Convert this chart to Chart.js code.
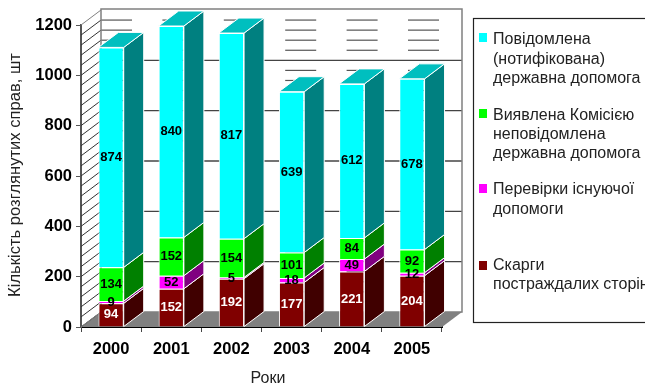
<!DOCTYPE html>
<html>
<head>
<meta charset="utf-8">
<style>
  html, body { margin: 0; padding: 0; background: #fff; overflow: hidden; }
  canvas { display: block; }
</style>
<script src="https://cdn.jsdelivr.net/npm/chart.js@4"></script>
</head>
<body>
<canvas id="casesChart" width="645" height="386"></canvas>
<script>
const years = ['2000', '2001', '2002', '2003', '2004', '2005'];
const complaints = [94, 152, 192, 177, 221, 204];
const reviews = [9, 52, 5, 18, 49, 12];
const detected = [134, 152, 154, 101, 84, 92];
const notified = [874, 840, 817, 639, 612, 678];

const legendNotified = ['Повідомлена', '(нотифікована)', 'державна допомога'];
const legendDetected = ['Виявлена Комісією', 'неповідомлена', 'державна допомога'];
const legendReviews = ['Перевірки існуючої', 'допомоги'];
const legendComplaints = ['Скарги', 'постраждалих сторін'];

const FONT = '"Liberation Sans", Arial, sans-serif';
const DEPTH_X = 20;
const DEPTH_Y = 15;

function poly(ctx, pts, fill, stroke, lw) {
    ctx.beginPath();
    pts.forEach((p, i) => i ? ctx.lineTo(p[0], p[1]) : ctx.moveTo(p[0], p[1]));
    ctx.closePath();
    if (fill) { ctx.fillStyle = fill; ctx.fill(); }
    if (stroke) { ctx.strokeStyle = stroke; ctx.lineWidth = lw || 1; ctx.stroke(); }
}

function line(ctx, x1, y1, x2, y2, color, lw) {
    ctx.beginPath();
    ctx.moveTo(x1, y1);
    ctx.lineTo(x2, y2);
    ctx.strokeStyle = color;
    ctx.lineWidth = lw;
    ctx.stroke();
}

// walls, floor and grid of the 3d box, behind the bars
const boxPlugin = {
    id: 'box3d',
    beforeDatasetsDraw(chart) {
        const ctx = chart.ctx;
        const { x, y } = chart.scales;
        const l = x.left, r = x.right;
        const y0 = y.getPixelForValue(0), yTop = y.getPixelForValue(1200);
        ctx.save();

        poly(ctx, [[l, y0], [r, y0], [r + DEPTH_X, y0 - DEPTH_Y], [l + DEPTH_X, y0 - DEPTH_Y]], '#808080');

        // hatching on the left wall
        for (let v = 0; v <= 1200; v += 40) {
            const py = y.getPixelForValue(v);
            line(ctx, l, py, l + DEPTH_X, py - DEPTH_Y, v === 1200 ? '#808080' : '#333', 1);
        }

        // short minor dashes on the back wall
        for (let i = 0; i < years.length; i++) {
            const sx = l + DEPTH_X + i * 61.4;
            for (let v = 40; v < 1200; v += 40) {
                if (v % 200 === 0) continue;
                const py = y.getPixelForValue(v) - DEPTH_Y;
                line(ctx, sx, py, sx + 31, py, '#555', 1.2);
            }
        }

        for (let v = 200; v < 1200; v += 200) {
            const py = y.getPixelForValue(v) - DEPTH_Y;
            line(ctx, l + DEPTH_X, py, r + DEPTH_X, py, '#444', 1.3);
        }

        poly(ctx, [[l + DEPTH_X, yTop - DEPTH_Y - 1], [r + DEPTH_X, yTop - DEPTH_Y - 1], [r + DEPTH_X, y0 - DEPTH_Y], [l + DEPTH_X, y0 - DEPTH_Y]], null, '#808080', 1.5);
        line(ctx, l, y0, l + DEPTH_X, y0 - DEPTH_Y, '#808080', 1);

        // side and top faces of every bar segment
        chart.data.datasets.forEach((ds, di) => {
            chart.getDatasetMeta(di).data.forEach(bar => {
                const right = bar.x + bar.width / 2;
                poly(ctx, [[right, bar.y], [right + DEPTH_X, bar.y - DEPTH_Y], [right + DEPTH_X, bar.base - DEPTH_Y], [right, bar.base]], ds.sideColor, '#fff', 1);
                if (di === chart.data.datasets.length - 1) {
                    const left = bar.x - bar.width / 2;
                    poly(ctx, [[left, bar.y], [left + DEPTH_X, bar.y - DEPTH_Y], [right + DEPTH_X, bar.y - DEPTH_Y], [right, bar.y]], ds.topColor, '#fff', 1);
                }
            });
        });
        ctx.restore();
    },
    afterDatasetsDraw(chart) {
        const ctx = chart.ctx;
        ctx.save();
        ctx.textAlign = 'center';
        ctx.textBaseline = 'middle';
        ctx.font = 'bold 13px ' + FONT;
        chart.data.datasets.forEach((ds, di) => {
            chart.getDatasetMeta(di).data.forEach((bar, i) => {
                ctx.fillStyle = ds.labelColor;
                ctx.fillText(ds.data[i], bar.x, (bar.y + bar.base) / 2);
            });
        });
        ctx.restore();
    }
};

// axis titles and the boxed legend
const sidePlugin = {
    id: 'sideText',
    afterDraw(chart) {
        const ctx = chart.ctx;
        ctx.save();
        ctx.fillStyle = '#222';
        ctx.textBaseline = 'alphabetic';

        ctx.textAlign = 'center';
        ctx.font = '16px ' + FONT;
        ctx.fillText('Роки', 268, 383);
        ctx.save();
        ctx.translate(20, 175);
        ctx.rotate(-Math.PI / 2);
        ctx.font = '16.6px ' + FONT;
        ctx.fillText('Кількість розглянутих справ, шт', 0, 0);
        ctx.restore();

        ctx.strokeStyle = '#222';
        ctx.lineWidth = 1.2;
        ctx.strokeRect(473.5, 18.5, 200, 304);

        const entries = [
            { color: '#00ffff', square: 33, lines: legendNotified, base: [44, 64, 83] },
            { color: '#00ff00', square: 109, lines: legendDetected, base: [120, 139, 158] },
            { color: '#ff00ff', square: 184, lines: legendReviews, base: [194, 214] },
            { color: '#800000', square: 261, lines: legendComplaints, base: [270, 289] }
        ];
        ctx.textAlign = 'left';
        ctx.font = '16px ' + FONT;
        entries.forEach(e => {
            ctx.fillStyle = e.color;
            ctx.fillRect(479, e.square, 8, 9);
            ctx.fillStyle = '#222';
            e.lines.forEach((t, i) => ctx.fillText(t, 493, e.base[i]));
        });
        ctx.restore();
    }
};

new Chart(document.getElementById('casesChart'), {
    type: 'bar',
    data: {
        labels: years,
        datasets: [
            { label: 'Скарги постраждалих сторін', data: complaints, backgroundColor: '#800000', sideColor: '#400000', topColor: '#a00000', labelColor: '#fff' },
            { label: 'Перевірки існуючої допомоги', data: reviews, backgroundColor: '#ff00ff', sideColor: '#800080', topColor: '#bf00bf', labelColor: '#000' },
            { label: 'Виявлена Комісією неповідомлена державна допомога', data: detected, backgroundColor: '#00ff00', sideColor: '#008000', topColor: '#00bf00', labelColor: '#000' },
            { label: 'Повідомлена (нотифікована) державна допомога', data: notified, backgroundColor: '#00ffff', sideColor: '#008080', topColor: '#00bfbf', labelColor: '#000' }
        ]
    },
    plugins: [boxPlugin, sidePlugin],
    options: {
        responsive: false,
        animation: false,
        layout: { padding: { top: 25, right: 203, left: 0, bottom: 0 } },
        datasets: {
            bar: { barPercentage: 1, categoryPercentage: 0.42, borderColor: '#fff', borderWidth: 1 }
        },
        plugins: { legend: { display: false }, title: { display: false }, tooltip: { enabled: false } },
        scales: {
            x: {
                stacked: true,
                afterFit: s => { s.height = 59; },
                border: { color: '#000', width: 2 },
                grid: { drawOnChartArea: false, tickLength: 5, color: '#444' },
                ticks: { color: '#000', padding: 8, maxRotation: 0, font: { family: FONT, size: 16.5, weight: 'bold' } }
            },
            y: {
                stacked: true,
                min: 0,
                max: 1200,
                afterFit: s => { s.width = 81; },
                border: { color: '#555', width: 2 },
                grid: { drawOnChartArea: false, tickLength: 5, color: '#555' },
                ticks: { stepSize: 200, color: '#000', padding: 4, callback: v => String(v), font: { family: FONT, size: 16.5, weight: 'bold' } }
            }
        }
    }
});
</script>
</body>
</html>
